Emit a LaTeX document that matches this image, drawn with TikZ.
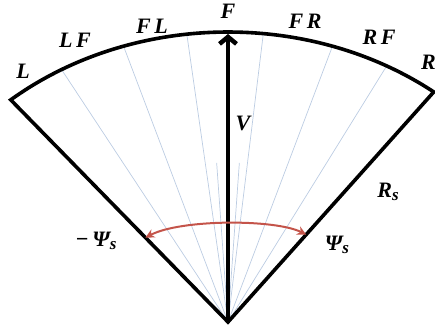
\documentclass[tikz,border=0pt]{standalone}
\usepackage{fontspec}
\setmainfont{Liberation Serif}
\usetikzlibrary{arrows.meta}
\usetikzlibrary{calc, math}
\definecolor{rayblue}{RGB}{188,204,226}
\definecolor{psired}{RGB}{196,84,74}
\newcommand{\lowsub}[1]{\raisebox{-0.35ex}{\fontsize{17}{18}\selectfont #1}}

\begin{document}
\begin{tikzpicture}[x=1pt,y=1pt,
 fan/.style={line width=3.6pt},
 ray/.style={line width=0.7pt, color=rayblue},
 lbl/.style={inner sep=1pt, font=\fontsize{22}{24}\selectfont\bfseries\itshape}]

\tikzmath{
\Rx = 338;%half width of the fan
\Ry = 290;%length of V
\aL = 130;
\aR = 52.5;
\fp = 0.38;
}

\useasboundingbox (0,0) rectangle (435,325);

\coordinate (O) at (228,3);
\coordinate (cL) at ($(O)+(\aL:{\Rx} and {\Ry})$);
\coordinate (cR) at ($(O)+(\aR:{\Rx} and {\Ry})$);
\coordinate (top) at ($(O)+(90:{\Rx} and {\Ry})$);

%rays
\foreach \t in {62,72,84,97,108,119.5}{
 \draw[ray] (O) -- ++(\t:{\Rx} and {\Ry});
}
\foreach \t in {86.5,93.5}{
 \draw[ray] (O) -- ++(\t:{0.55*\Rx} and {0.55*\Ry});
}

%fan
\draw[fan] (O) -- (cL) arc[start angle=\aL, end angle=\aR, x radius=\Rx, y radius=\Ry] -- cycle;

%velocity
\node[lbl, fill=white] (V) at (243,202) {V};
\draw[line width=4.5pt, -{Straight Barb[length=7pt, width=17pt]}] (O) -- ($(top)+(0,-2)$);

%sweep angle
\coordinate (psiL) at ($(O)!\fp!(cL)$);
\coordinate (psiR) at ($(O)!\fp!(cR)$);
\draw[line width=2pt, color=psired, {Stealth[length=9pt, width=9pt]}-{Stealth[length=9pt, width=9pt]}]
 (psiL) .. controls (181,106) and (275,106) .. (psiR);

\node[lbl] (L) at (23,254) {L};
\node[lbl] (LF) at (75,285) {L\,F};
\node[lbl] (FL) at (152,299) {F\,L};
\node[lbl] (F) at (228,314) {F};
\node[lbl] (FR) at (305,304) {F\,R};
\node[lbl] (RF) at (379,288) {R\,F};
\node[lbl, anchor=east] (R) at (437,263) {R};
\node[lbl] (Rs) at (388,133) {R\lowsub{s}};
\node[lbl] (psi) at (337,80) {Ψ\lowsub{s}};
\node[lbl] (mpsi) at (96,84) {−\,Ψ\lowsub{s}};

\end{tikzpicture}
\end{document}
